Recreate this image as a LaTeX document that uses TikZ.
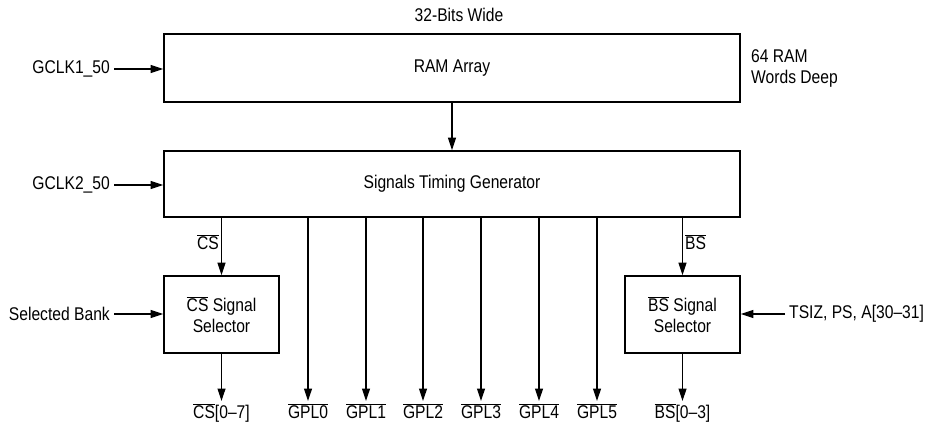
\documentclass[tikz,border=0pt]{standalone}
\usepackage{fontspec}
\setmainfont{Liberation Sans}[FakeStretch=0.85]
\usetikzlibrary{arrows.meta}
\newcommand{\ovl}[1]{$\overline{\mbox{#1}}$}
\begin{document}
\begin{tikzpicture}[x=1pt,y=-1pt,
  every node/.style={font=\fontsize{18.4}{21}\selectfont},
  blk/.style={draw,line width=1.6pt,inner sep=0pt,align=center},
  arr/.style={line width=1.2pt,-{Triangle[length=12.5pt,width=8pt]}},
  lbl/.style={inner sep=2pt},
  side/.style={inner sep=4pt}]
\useasboundingbox (0,0) rectangle (936,427);
% boxes
\node[blk,minimum width=576pt,minimum height=68pt] (ram) at (452,68) {RAM Array};
\node[blk,minimum width=576pt,minimum height=66pt] (stg) at (452,184) {Signals Timing Generator};
\node[blk,minimum width=115pt,minimum height=77pt] (cssel) at (221.5,314.5) {\ovl{CS} Signal\\Selector};
\node[blk,minimum width=115pt,minimum height=77pt] (bssel) at (682.5,314.5) {\ovl{BS} Signal\\Selector};
% top labels
\node[lbl] (wide) at (459,15) {32-Bits Wide};
\node[lbl,anchor=west,align=left] (deep) at (749,68) {64 RAM\\Words Deep};
% inputs
\node[side,anchor=east] (gclk1) at (114,69) {GCLK1\_50};
\node[side,anchor=east] (gclk2) at (114,185) {GCLK2\_50};
\node[side,anchor=east] (selbank) at (114,314) {Selected Bank};
\node[side,anchor=west] (tsiz) at (785,314) {TSIZ, PS, A[30--31]};
\draw[arr] (gclk1.east) -- (gclk1.east -| ram.west);
\draw[arr] (gclk2.east) -- (gclk2.east -| stg.west);
\draw[arr] (selbank.east) -- (selbank.east -| cssel.west);
\draw[arr] (tsiz.west) -- (tsiz.west -| bssel.east);
\draw[arr] (ram.south) -- (stg.north);
% cs / bs
\draw[arr] (stg.south -| cssel.north) -- node[lbl,anchor=east,pos=0.42] (cslab) {\ovl{CS}} (cssel.north);
\draw[arr] (stg.south -| bssel.north) -- node[lbl,anchor=west,pos=0.42] (bslab) {\ovl{BS}} (bssel.north);
% bottom labels
\node[lbl,anchor=north] (csout) at (221.5,401) {\ovl{CS}[0--7]};
\node[lbl,anchor=north] (bsout) at (682.5,401) {\ovl{BS}[0--3]};
\foreach \i/\x in {0/308,1/366,2/423,3/481,4/539,5/597}{
  \node[lbl,anchor=north] (gpl\i) at (\x,401) {\ovl{GPL\i}};
  \draw[arr] (stg.south -| gpl\i.north) -- (gpl\i.north);
}
\draw[arr] (cssel.south) -- (csout.north);
\draw[arr] (bssel.south) -- (bsout.north);
\end{tikzpicture}
\end{document}
